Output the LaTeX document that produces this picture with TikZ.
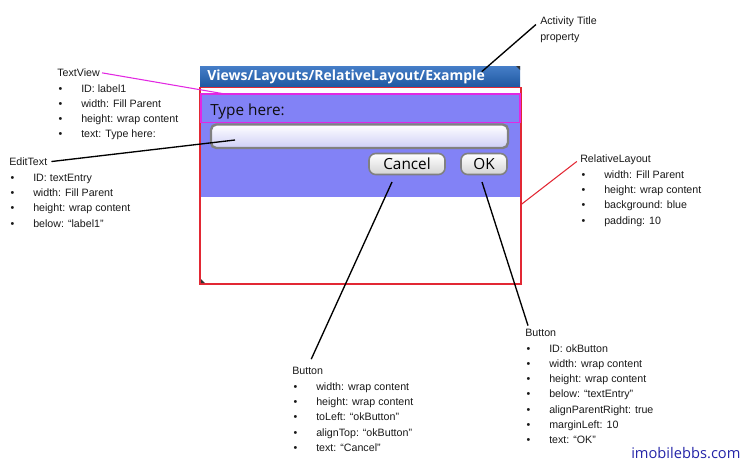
\documentclass[tikz,border=0pt]{standalone}
\usepackage{fontspec}
\setmainfont{Liberation Sans}
\newfontfamily\droid{Open Sans}
\usepackage{xcolor}
\usetikzlibrary{positioning}

\definecolor{barTop}{RGB}{70,126,200}
\definecolor{barBot}{RGB}{30,88,160}
\definecolor{panelBlue}{RGB}{130,130,246}
\definecolor{layoutRed}{RGB}{226,40,52}
\definecolor{tvMagenta}{RGB}{226,40,226}
\definecolor{boxGray}{RGB}{128,128,128}
\definecolor{editLav}{RGB}{206,206,246}
\definecolor{btnBot}{RGB}{212,212,212}
\definecolor{siteBlue}{RGB}{36,36,168}

\newcommand\bitem[1]{\makebox[18pt][l]{\hspace{1pt}\textbullet}#1}

\begin{document}
\begin{tikzpicture}[x=0.75pt,y=0.75pt,yscale=-1,xscale=1,
  hdr/.style={font=\fontsize{8}{11.4}\selectfont, inner sep=0pt, text height=5.7pt, text depth=0pt, anchor=west, text=black!90},
  lst/.style={font=\fontsize{8}{11.4}\selectfont, inner sep=0pt, align=left, text=black!90},
  btn/.style={draw=boxGray, line width=1.2pt, rounded corners=5pt, top color=white, bottom color=btnBot, inner sep=0pt, font=\droid\fontsize{11.5}{12}\selectfont},
  cline/.style={draw=black, line width=1pt}]
\useasboundingbox (0,0) rectangle (745,464);

%Shape: Title bar
\shade[top color=barTop, bottom color=barBot] (200,66) rectangle (520,87);
\fill[black!80] (516,66) -- (520,66) -- (520,70) -- cycle;
\node[anchor=west, inner sep=0pt, text=white, font=\droid\bfseries\fontsize{10.5}{12}\selectfont] (title) at (207,76.5) {Views/Layouts/RelativeLayout/Example};
%Shape: RelativeLayout
\draw[layoutRed, line width=1.1pt, fill=white] (200,87.5) rectangle (521,284);
\fill[panelBlue] (201,93) rectangle (520,196.5);
\fill[black!80] (201,279) -- (201,283) -- (205,283) -- cycle;
%Shape: TextView
\draw[tvMagenta, line width=0.8pt] (201,94) rectangle (520,122.5);
\node[anchor=west, inner sep=0pt, text=black!95, font=\droid\fontsize{11.5}{12}\selectfont] (typeHere) at (210,112) {Type here:};
%Shape: EditText
\draw[boxGray, line width=1.8pt, rounded corners=4pt, top color=white, bottom color=editLav] (211,124.5) rectangle (508,148);
%Buttons
\node[btn, minimum width=57pt, minimum height=15.75pt] (cancelBtn) at (407,164) {Cancel};
\node[btn, minimum width=34.5pt, minimum height=15.75pt] (okBtn) at (484,164) {OK};

% Text Node
\node[hdr] (atHead) at (540,21) {Activity Title};
\node[lst, below=3.42pt of atHead.south west, anchor=north west] (atList) {\strut property};
% Text Node
\node[hdr] (tvHead) at (57,72.5) {TextView};
\node[lst, below=3.42pt of tvHead.south west, anchor=north west] (tvList) {\strut\bitem{ID: label1}\\\bitem{width: Fill Parent}\\\bitem{height: wrap content}\\\bitem{text: Type here:}};
% Text Node
\node[hdr] (etHead) at (9,162) {EditText};
\node[lst, below=3.42pt of etHead.south west, anchor=north west] (etList) {\strut\bitem{ID: textEntry}\\\bitem{width: Fill Parent}\\\bitem{height: wrap content}\\\bitem{below: “label1”}};
% Text Node
\node[hdr] (rlHead) at (580,159) {RelativeLayout};
\node[lst, below=3.42pt of rlHead.south west, anchor=north west] (rlList) {\strut\bitem{width: Fill Parent}\\\bitem{height: wrap content}\\\bitem{background: blue}\\\bitem{padding: 10}};
% Text Node
\node[hdr] (cbHead) at (292,371) {Button};
\node[lst, below=3.42pt of cbHead.south west, anchor=north west] (cbList) {\strut\bitem{width: wrap content}\\\bitem{height: wrap content}\\\bitem{toLeft: “okButton”}\\\bitem{alignTop: “okButton”}\\\bitem{text: “Cancel”}};
% Text Node
\node[hdr] (obHead) at (525,332.7) {Button};
\node[lst, below=3.42pt of obHead.south west, anchor=north west] (obList) {\strut\bitem{ID: okButton}\\\bitem{width: wrap content}\\\bitem{height: wrap content}\\\bitem{below: “textEntry”}\\\bitem{alignParentRight: true}\\\bitem{marginLeft: 10}\\\bitem{text: “OK”}};
% Text Node
\node[anchor=west, inner sep=0pt, text=siteBlue, font=\droid\fontsize{11}{13}\selectfont] (site) at (631,453) {imobilebbs.com};

%Straight Lines
\coordinate (titlePt) at (481.7,71.7);
\coordinate (tvPt) at (225,94);
\coordinate (etPt) at (235,140);
\coordinate (rlPt) at (520.5,205);
\coordinate (cancelPt) at (392,182);
\coordinate (okPt) at (482,182);
\draw[cline, shorten >=4pt] (titlePt) -- (atHead.west);
\draw[tvMagenta, line width=0.8pt, shorten <=1.5pt] (tvHead.east) -- (tvPt);
\draw[cline, shorten <=3pt] (etHead.east) -- (etPt);
\draw[layoutRed, line width=0.8pt, shorten >=3pt] (rlPt) -- (rlHead.west);
\draw[cline, shorten >=6.4pt] (cancelPt) -- (cbHead.north);
\draw[cline] (okPt) -- ([shift={(3,-3)}]obHead.north west);
\end{tikzpicture}
\end{document}
